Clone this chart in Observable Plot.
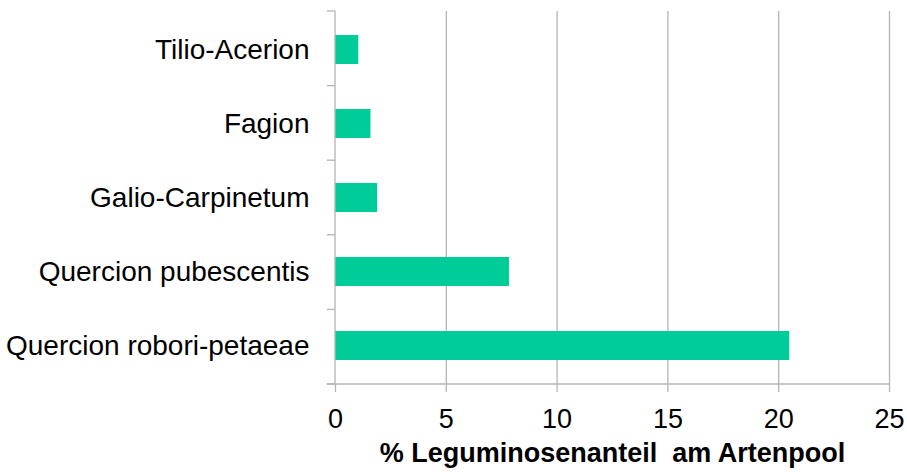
<!DOCTYPE html>
<html>
<head>
<meta charset="utf-8">
<script src="https://cdn.jsdelivr.net/npm/d3@7"></script>
<script src="https://cdn.jsdelivr.net/npm/@observablehq/plot@0.6"></script>
<style>
  html, body { margin: 0; padding: 0; background: #fff; }
  #chart svg { display: block; }
</style>
</head>
<body>
<div id="chart"></div>
<script>
const categories = ["Tilio-Acerion", "Fagion", "Galio-Carpinetum", "Quercion pubescentis", "Quercion robori-petaeae"];
const values = [1.05, 1.6, 1.9, 7.85, 20.5];
const xTicks = [0, 5, 10, 15, 20, 25];
const xLabel = "% Leguminosenanteil  am Artenpool";

const data = categories.map((c, i) => ({category: c, value: values[i]}));

const W = 907, H = 472;
const mL = 335, mR = 18, mT = 11, mB = 88;
const gray = "#b4b4b4";
const font = "Liberation Sans, Arial, sans-serif";

function axisDecor(index, scales, vals, dims) {
  const x = scales.x;
  const g = d3.create("svg:g").attr("stroke", gray).attr("stroke-width", 1.3).attr("fill", "none");
  const top = dims.marginTop, bottom = dims.height - dims.marginBottom;
  const step = (bottom - top) / categories.length;
  const x0 = x(0);
  g.append("line").attr("x1", x0).attr("x2", x0).attr("y1", top).attr("y2", bottom);
  for (let i = 0; i <= categories.length; i++) {
    const yy = top + i * step;
    g.append("line").attr("x1", x0 - 8).attr("x2", x0).attr("y1", yy).attr("y2", yy);
  }
  g.append("line").attr("x1", x0 - 8).attr("x2", x(xTicks[xTicks.length - 1])).attr("y1", bottom).attr("y2", bottom);
  return g.node();
}

const chart = Plot.plot({
  width: W,
  height: H,
  marginLeft: mL,
  marginRight: mR,
  marginTop: mT,
  marginBottom: mB,
  style: {fontFamily: font, background: "#fff", color: "#000"},
  x: {domain: [0, 25], ticks: xTicks, label: null},
  y: {domain: categories, paddingInner: 0.61, paddingOuter: 0.305, label: null},
  marks: [
    Plot.gridX(xTicks.slice(1), {stroke: gray, strokeOpacity: 1, strokeWidth: 1.3}),
    Plot.barX(data, {x: "value", y: "category", fill: "#00cc99"}),
    axisDecor,
    Plot.axisY({tickSize: 0, tickPadding: 26, fontSize: 28, fill: "#000", label: null}),
    Plot.axisX(xTicks, {tickSize: 8, tickPadding: 16, fontSize: 27, fill: "#000", stroke: gray, strokeWidth: 1.3, label: null}),
    Plot.text([xLabel], {frameAnchor: "bottom", dy: 77, fontSize: 27, fontWeight: "bold", fill: "#000"})
  ]
});
document.getElementById("chart").append(chart);
</script>
</body>
</html>
